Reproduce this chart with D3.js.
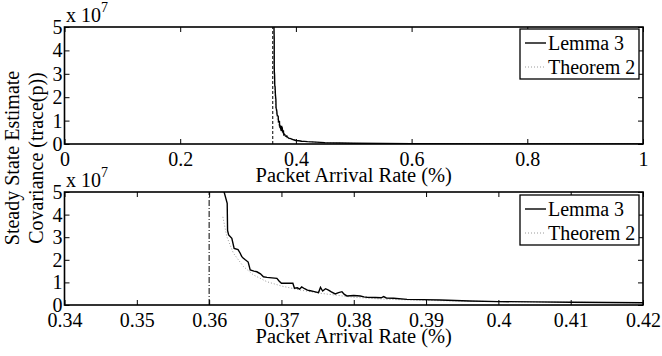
<!DOCTYPE html>
<html>
<head>
<meta charset="utf-8">
<script src="https://cdn.jsdelivr.net/npm/d3@7"></script>
<style>
  body { margin: 0; background: #fff; }
</style>
</head>
<body>
<div id="chart"></div>
<script>
// packet arrival rate (p) and trace(P) in units of 1e7
var lemmaP = [0.3619, 0.3625, 0.36255, 0.3627, 0.36314, 0.36346, 0.3640, 0.3643, 0.3645, 0.3647, 0.3650,
  0.3654, 0.36568, 0.3662, 0.3666, 0.3671, 0.36751, 0.3680, 0.36937, 0.3697, 0.3700, 0.3705, 0.37158,
  0.3718, 0.3722, 0.3725, 0.3728, 0.3732, 0.3736, 0.3740, 0.3744, 0.37513, 0.3754, 0.3757, 0.3761,
  0.37651, 0.3769, 0.37744, 0.3779, 0.37837, 0.3787, 0.37906, 0.3800, 0.3809, 0.3814, 0.38183, 0.3830,
  0.3838, 0.38413, 0.3845, 0.38551, 0.38737, 0.3895, 0.39197, 0.3960, 0.4000, 0.4050, 0.4100, 0.4150,
  0.4200, 0.45, 0.50, 0.55, 0.60, 0.70, 0.80, 0.90, 1.00];
var lemmaV = [5.2, 4.5, 3.3, 3.1, 2.95, 2.5, 2.45, 2.29, 2.15, 2.08, 2.0,
  1.9, 1.55, 1.5, 1.47, 1.38, 1.25, 1.22, 1.18, 1.05, 0.96, 0.97, 0.96,
  0.74, 0.76, 0.70, 0.80, 0.72, 0.66, 0.63, 0.60, 0.55, 0.78, 0.62, 0.72,
  0.66, 0.58, 0.49, 0.55, 0.59, 0.47, 0.40, 0.42, 0.40, 0.36, 0.34, 0.33,
  0.32, 0.37, 0.31, 0.30, 0.25, 0.24, 0.22, 0.18, 0.15, 0.14, 0.12, 0.11,
  0.10, 0.06, 0.03, 0.02, 0.012, 0.006, 0.003, 0.002, 0.001];

var theoremP = [0.3619, 0.36245, 0.36336, 0.36475, 0.36613, 0.36799, 0.3700, 0.3726, 0.37536, 0.37997,
  0.3846, 0.3920, 0.4000, 0.4100, 0.4200, 0.45, 0.50, 0.60, 0.70, 0.80, 0.90, 1.00];
var theoremV = [3.9, 3.02, 2.29, 1.7, 1.33, 1.03, 0.84, 0.66, 0.52, 0.34,
  0.25, 0.19, 0.15, 0.12, 0.10, 0.05, 0.025, 0.01, 0.005, 0.003, 0.002, 0.001];

var criticalP = 0.36;

var topXTicks = [0, 0.2, 0.4, 0.6, 0.8, 1];
var bottomXTicks = [0.34, 0.35, 0.36, 0.37, 0.38, 0.39, 0.40, 0.41, 0.42];
var yTicks = [0, 1, 2, 3, 4, 5];
var seriesNames = ["Lemma 3", "Theorem 2"];

var W = 662, H = 356;
var FONT = "Liberation Serif";

var svg = d3.select("#chart").append("svg")
  .attr("width", W).attr("height", H)
  .attr("font-family", FONT);

var lemma = lemmaP.map(function(p, i) { return [p, lemmaV[i]]; });
var theorem = theoremP.map(function(p, i) { return [p, theoremV[i]]; });

function drawPanel(cfg) {
  var x = d3.scaleLinear().domain(cfg.xDomain).range([64.5, 643]);
  var y = d3.scaleLinear().domain([0, 5]).range([cfg.bottom, cfg.top]);
  var g = svg.append("g");

  g.append("clipPath").attr("id", cfg.id)
    .append("rect")
    .attr("x", x.range()[0]).attr("y", y(5))
    .attr("width", x.range()[1] - x.range()[0])
    .attr("height", y(0) - y(5));

  var plot = g.append("g").attr("clip-path", "url(#" + cfg.id + ")");

  // critical arrival rate
  plot.append("line")
    .attr("x1", x(criticalP)).attr("x2", x(criticalP))
    .attr("y1", y(0)).attr("y2", y(5))
    .attr("stroke", "#000").attr("stroke-width", 1)
    .attr("stroke-dasharray", cfg.critDash);

  var line = d3.line().x(function(d) { return x(d[0]); }).y(function(d) { return y(d[1]); });

  plot.append("path").datum(theorem)
    .attr("d", line).attr("fill", "none")
    .attr("stroke", "#9a9a9a").attr("stroke-width", 1)
    .attr("stroke-dasharray", "1,2");

  plot.append("path").datum(lemma)
    .attr("d", line).attr("fill", "none")
    .attr("stroke", "#000").attr("stroke-width", 1.4)
    .attr("stroke-linejoin", "miter");

  // axes, ticks pointing inward on all four sides
  var fmt = function(d) { return String(d); };
  g.append("g").attr("transform", "translate(0," + y(0) + ")")
    .call(d3.axisBottom(x).tickValues(cfg.xTicks).tickFormat(fmt)
      .tickSizeInner(-5).tickSizeOuter(0).tickPadding(8));
  g.append("g").attr("transform", "translate(0," + y(5) + ")")
    .call(d3.axisTop(x).tickValues(cfg.xTicks).tickFormat("")
      .tickSizeInner(-5).tickSizeOuter(0));
  g.append("g").attr("transform", "translate(" + x.range()[0] + ",0)")
    .call(d3.axisLeft(y).tickValues(yTicks).tickFormat(fmt)
      .tickSizeInner(-5).tickSizeOuter(0).tickPadding(2));
  g.append("g").attr("transform", "translate(" + x.range()[1] + ",0)")
    .call(d3.axisRight(y).tickValues(yTicks).tickFormat("")
      .tickSizeInner(-5).tickSizeOuter(0));

  g.selectAll(".domain").remove();
  g.selectAll("g").attr("font-family", FONT);
  g.selectAll(".tick line").attr("stroke", "#000").attr("stroke-width", 1);
  g.selectAll(".tick text").attr("font-size", 20).attr("font-family", FONT).attr("fill", "#000");

  g.append("rect")
    .attr("x", x.range()[0]).attr("y", y(5))
    .attr("width", x.range()[1] - x.range()[0])
    .attr("height", y(0) - y(5))
    .attr("fill", "none").attr("stroke", "#000").attr("stroke-width", 1.6);

  // exponent label
  var ex = g.append("text")
    .attr("x", 66).attr("y", y(5) - 5)
    .attr("font-family", FONT)
    .attr("font-size", 20);
  ex.append("tspan").text("x 10");
  ex.append("tspan").attr("font-size", 14).attr("dy", -10).text("7");

  g.append("text")
    .attr("x", (x.range()[0] + x.range()[1]) / 2)
    .attr("y", y(0) + 38)
    .attr("text-anchor", "middle")
    .attr("font-family", FONT)
    .attr("font-size", 20.5)
    .text("Packet Arrival Rate (%)");

  // legend
  var lg = g.append("g").attr("transform", "translate(520," + (y(5) + cfg.legendOffset) + ")");
  lg.append("rect")
    .attr("width", 119).attr("height", 50)
    .attr("fill", "#fff").attr("stroke", "#000").attr("stroke-width", 1.3);
  seriesNames.forEach(function(name, i) {
    var ly = 14 + i * 24;
    lg.append("line")
      .attr("x1", 5).attr("x2", 26).attr("y1", ly).attr("y2", ly)
      .attr("stroke", i === 0 ? "#000" : "#9a9a9a")
      .attr("stroke-width", i === 0 ? 1.4 : 1)
      .attr("stroke-dasharray", i === 0 ? null : "1,2");
    lg.append("text")
      .attr("x", 28).attr("y", ly + 7)
      .attr("font-family", FONT)
      .attr("font-size", 20)
      .text(name);
  });
}

drawPanel({ id: "clipTop", xDomain: [0, 1], xTicks: topXTicks, top: 27, bottom: 144,
  critDash: "3,2", legendOffset: 2 });
drawPanel({ id: "clipBottom", xDomain: [0.34, 0.42], xTicks: bottomXTicks, top: 192, bottom: 305,
  critDash: "6,2,1,2", legendOffset: 3 });

// shared y label
var yl = svg.append("text")
  .attr("transform", "translate(0,158) rotate(-90)")
  .attr("text-anchor", "middle")
  .attr("font-family", FONT)
  .attr("font-size", 20);
yl.append("tspan").attr("x", 0).attr("y", 19).text("Steady State Estimate");
yl.append("tspan").attr("x", 0).attr("y", 43).text("Covariance (trace(p))");
</script>
</body>
</html>
